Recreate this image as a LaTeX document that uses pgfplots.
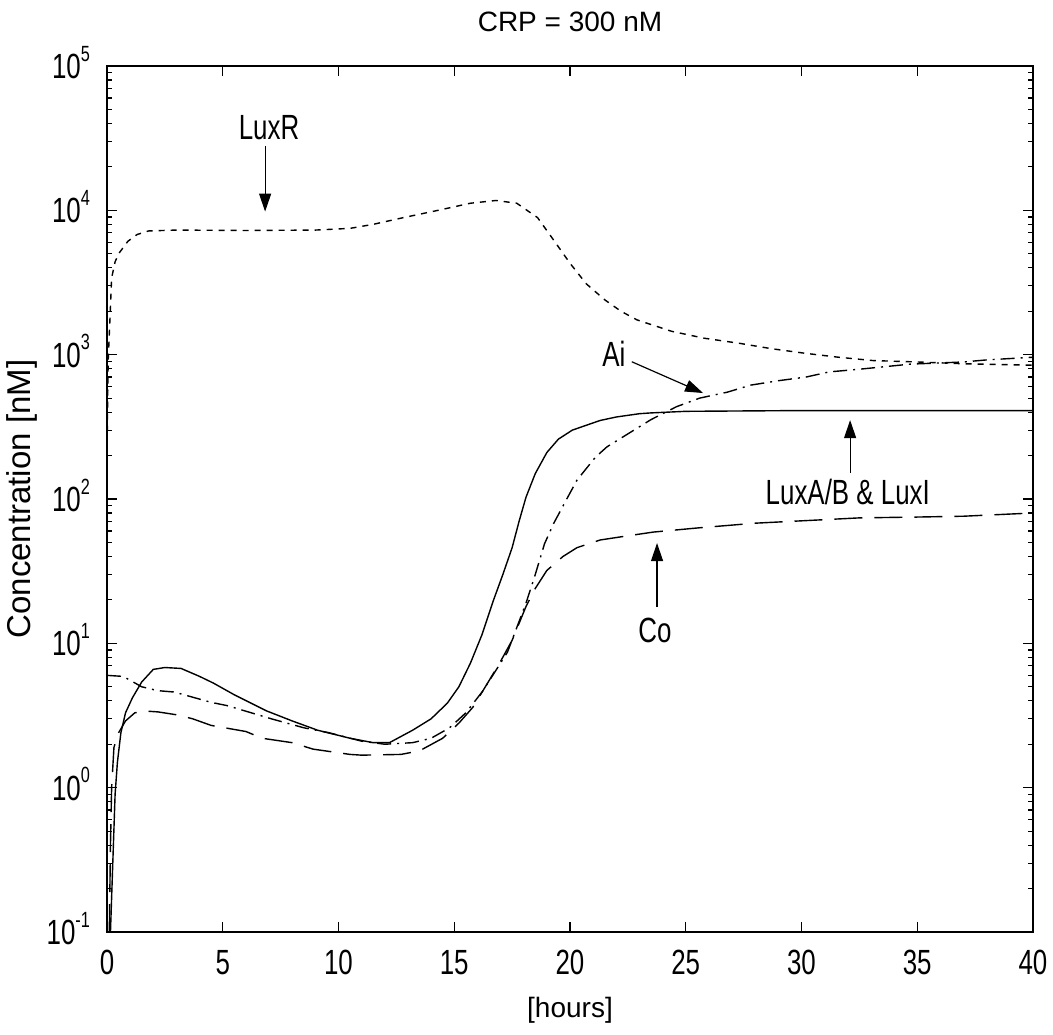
\documentclass[border=0pt]{standalone}
\usepackage{fontspec}
\setmainfont{Liberation Sans}
\newfontfamily\narrowfont[FakeStretch=0.74]{Liberation Sans}
\usepackage{pgfplots}
\pgfplotsset{compat=1.18}
\usetikzlibrary{arrows.meta}

\newcommand{\tickfont}{\narrowfont\fontsize{17.5}{20}\selectfont}
\newcommand{\pw}[1]{10\raisebox{0.5em}{\fontsize{11}{11}\selectfont #1}}

\begin{document}
\begin{tikzpicture}
\path[use as bounding box] (-53.5pt,-51pt) rectangle (473pt,466pt);
\begin{axis}[
    scale only axis,
    width=463pt, height=433pt,
    xmin=0, xmax=40,
    ymode=log, ymin=0.1, ymax=100000,
    xtick={0,5,10,15,20,25,30,35,40},
    xticklabels={0,5,10,15,20,25,30,35,40},
    ytick={0.1,1,10,100,1000,10000,100000},
    yticklabels={\pw{-1},\pw{0},\pw{1},\pw{2},\pw{3},\pw{4},\pw{5}},
    minor x tick num=0,
    tick align=inside,
    major tick length=5pt,
    minor tick length=2.5pt,
    every tick/.style={black, line width=0.6pt},
    axis line style={line width=1pt},
    xticklabel style={font=\tickfont, anchor=base, yshift=-21pt},
    yticklabel style={font=\tickfont, anchor=base east, xshift=-5pt, yshift=-6.3pt},
    xlabel={[hours]},
    xlabel style={font=\fontsize{14}{16}\selectfont, at={(axis description cs:0.5,-0.090)}, anchor=center},
    ylabel={Concentration [nM]},
    ylabel style={font=\fontsize{16.5}{18}\selectfont, at={(axis description cs:-0.092,0.5)}, anchor=center},
    every axis plot/.append style={black, line width=0.7pt},
    clip=true,
]

% LuxR
\addplot[dash pattern=on 3pt off 3pt] coordinates {
 (0,200) (0.05,900) (0.13,1800) (0.2,3400) (0.35,4400) (0.5,5000) (0.9,6100)
 (1.3,6800) (1.8,7200) (3,7300) (6,7250) (9,7300) (10.5,7500) (11.5,8000)
 (12.8,8900) (14.3,10000) (15.7,11200) (16.8,11700) (17.7,11200) (18.6,8900)
 (19.3,6200) (20,4300) (20.7,3100) (21.5,2400) (22.2,2000) (22.9,1740)
 (24.4,1450) (25.8,1300) (27.3,1200) (28.7,1100) (30.2,1020) (31.6,960)
 (33.1,910) (35,890) (37,865) (40,845)
};

% LuxA/B & LuxI
\addplot[solid] coordinates {
 (0.15,0.1) (0.25,0.3) (0.35,0.9) (0.45,1.5) (0.6,2.4) (0.8,3.3) (1.1,4.2)
 (1.5,5.4) (2.0,6.6) (2.5,6.8) (3.2,6.7) (4.0,5.9) (4.6,5.3) (5.5,4.4)
 (6.9,3.4) (8,2.9) (9.1,2.5) (10.5,2.2) (11.5,2.05) (12.2,2.05) (13.2,2.5)
 (14,3.0) (14.7,3.85) (15.2,5) (15.7,7.3) (16.2,11.5) (16.7,20) (17.1,30)
 (17.5,46) (17.8,70) (18.1,103) (18.5,150) (19.0,210) (19.5,260) (20.1,300)
 (20.6,320) (21.3,350) (22,370) (23,390) (23.5,395) (25,405) (30,410) (40,410)
};

% Ai
\addplot[dash pattern=on 7pt off 3pt on 1pt off 3pt] coordinates {
 (0,6) (0.7,5.9) (1.5,5.0) (2.2,4.7) (2.9,4.6) (4.5,3.9) (5.2,3.7) (7.1,3.0)
 (8.5,2.6) (9.6,2.4) (11,2.1) (12,2.0) (13.2,2.05) (14,2.2) (14.8,2.6)
 (15.5,3.3) (16.2,4.6) (16.8,6.5) (17.3,8.7) (18.1,19) (18.5,30) (18.9,49)
 (19.3,68) (19.8,96) (20.3,135) (21.1,195) (21.6,230) (22.3,270) (23.5,355)
 (24.6,436) (25.6,500) (26.8,550) (27.8,615) (29,660) (30.2,700) (31.2,760)
 (32.4,790) (34.7,860) (37,890) (38,920) (40,960)
};

% Co
\addplot[dash pattern=on 14pt off 6pt] coordinates {
 (0.1,0.1) (0.15,0.4) (0.2,1.0) (0.3,1.9) (0.5,2.4) (0.8,2.9) (1.2,3.3)
 (1.6,3.4) (2.2,3.35) (3.0,3.2) (3.7,3.0) (4.5,2.7) (6,2.45) (6.7,2.2)
 (8,2.05) (8.9,1.85) (10.5,1.7) (11,1.68) (12.7,1.7) (13.5,1.8) (14.5,2.2)
 (15.2,2.8) (15.8,3.6) (16.5,5.5) (17.0,7.5) (17.5,10.5) (18.1,18) (18.5,24)
 (19.0,32) (19.7,40) (20.3,46) (21.3,52) (22.3,55) (23.6,59) (25.5,63)
 (28,68) (30.3,71) (32.5,74) (35,75) (37,76) (40,80)
};

% annotations
\node[font=\tickfont] at (axis cs:7.0,37500) {LuxR};
\draw[line width=0.6pt, -{Triangle[length=9pt,width=6pt]}] (axis cs:6.83,28000) -- (axis cs:6.83,9800);

\node[font=\tickfont] at (axis cs:21.9,1020) {Ai};
\draw[line width=0.6pt, -{Triangle[length=9pt,width=6pt]}] (axis cs:22.67,893) -- (axis cs:25.75,542);

\node[font=\tickfont] at (axis cs:32.0,112) {LuxA/B \& LuxI};
\draw[line width=0.6pt, -{Triangle[length=9pt,width=6pt]}] (axis cs:32.1,151) -- (axis cs:32.1,352);

\node[font=\tickfont] at (axis cs:23.67,12.2) {Co};
\draw[line width=0.6pt, -{Triangle[length=9pt,width=6pt]}] (axis cs:23.76,17.8) -- (axis cs:23.76,49.5);
\end{axis}
\node[font=\fontsize{14}{16}\selectfont] at (231.5pt,455pt) {CRP = 300 nM};
\end{tikzpicture}
\end{document}
